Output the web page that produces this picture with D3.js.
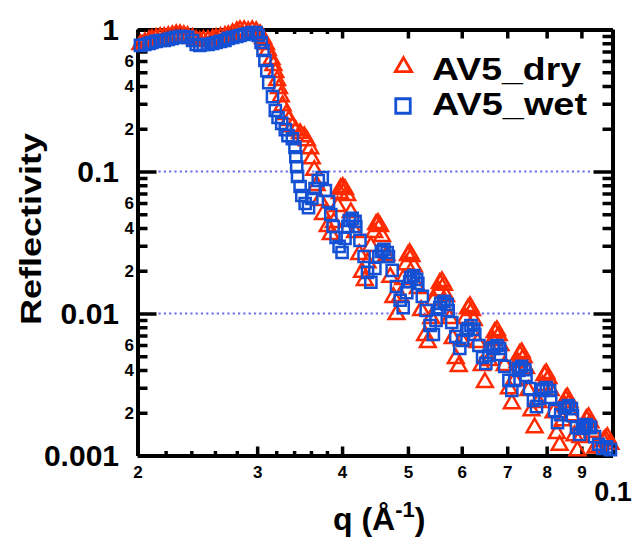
<!DOCTYPE html>
<html>
<head>
<meta charset="utf-8">
<script src="https://cdn.jsdelivr.net/npm/d3@7"></script>
<style>
body { margin: 0; background: #fff; }
svg { display: block; font-family: "Liberation Sans", Arial, Helvetica, sans-serif; font-weight: bold; }
</style>
</head>
<body>
<svg id="chart" width="634" height="539"></svg>
<script>
var seriesNames = ["AV5_dry", "AV5_wet"];

var qDry = [0.0202,0.0205,0.0208,0.0210,0.0213,0.0216,0.0219,0.0222,0.0225,0.0228,0.0231,0.0234,0.0237,0.0241,0.0244,0.0247,0.0250,0.0254,0.0258,0.0261,0.0265,0.0269,0.0272,0.0276,0.0280,0.0283,0.0287,0.0291,0.0295,0.0299,
    0.0303,0.0306,0.0309,0.0311,0.0315,0.0317,0.0319,0.0321,0.0323,0.0325,0.0327,0.0331,0.0334,0.0338,0.0342,0.0347,0.0352,0.0355,0.0359,0.0361,0.0364,0.0367,
    0.0371,0.0375,0.0381,0.0385,0.0389,0.0394,0.0397,0.0398,0.0401,0.0404,0.0407,0.0412,0.0418,0.0424,0.0428,0.0432,0.0436,0.0441,0.0446,0.0449,0.0452,0.0455,0.0458,0.0465,
    0.0471,0.0476,0.0481,0.0487,0.0492,0.0497,0.0500,0.0503,0.0506,0.0510,0.0517,0.0523,0.0530,0.0535,0.0541,0.0546,0.0554,0.0557,0.0561,0.0565,0.0569,0.0576,
    0.0582,0.0588,0.0594,0.0600,0.0608,0.0613,0.0617,0.0621,0.0625,0.0633,0.0642,0.0649,0.0658,0.0667,0.0671,0.0676,0.0680,0.0684,0.0694,0.0704,0.0711,0.0718,
    0.0725,0.0730,0.0735,0.0740,0.0746,0.0752,0.0760,0.0768,0.0778,0.0789,0.0794,0.0799,0.0805,0.0811,0.0819,0.0828,0.0836,0.0845,0.0850,0.0853,0.0858,0.0864,
    0.0870,0.0879,0.0888,0.0897,0.0909,0.0915,0.0922,0.0928,0.0935,0.0944,0.0957,0.0970,0.0976,0.0983,0.0993];
var rDry = [0.784,0.810,0.837,0.851,0.865,0.879,0.879,0.893,0.907,0.922,0.922,0.907,0.893,0.865,0.837,0.824,0.837,0.837,0.851,0.865,0.879,0.893,0.907,0.937,0.968,0.984,0.984,0.968,0.984,0.968,
    0.922,0.865,0.784,0.711,0.615,0.558,0.498,0.437,0.384,0.337,0.291,0.252,0.229,0.207,0.194,0.185,0.176,0.165,0.145,0.123,0.102,0.0797,
    0.0625,0.0498,0.0410,0.0360,0.0438,0.0567,0.0700,0.0759,0.0772,0.0747,0.0678,0.0514,0.0372,0.0261,0.0195,0.0171,0.0228,0.0297,0.0372,0.0424,0.0431,0.0410,0.0349,0.0256,
    0.0180,0.0130,0.00984,0.0132,0.0174,0.0221,0.0256,0.0265,0.0252,0.0214,0.0150,0.0105,0.00700,0.00625,0.00922,0.0124,0.0145,0.0163,0.0168,0.0158,0.0132,0.00922,
    0.00667,0.00482,0.00424,0.00646,0.00922,0.0108,0.0112,0.0105,0.00893,0.00625,0.00431,0.00327,0.00467,0.00646,0.00735,0.00759,0.00700,0.00595,0.00431,0.00296,0.00232,0.00338,
    0.00452,0.00515,0.00531,0.00490,0.00410,0.00287,0.00207,0.00157,0.00236,0.00312,0.00366,0.00378,0.00349,0.00287,0.00200,0.00143,0.00118,0.00176,0.00225,0.00248,0.00256,0.00236,
    0.00191,0.00138,0.00108,0.00134,0.00162,0.00179,0.00185,0.00170,0.00146,0.00113,0.00115,0.00126,0.00130,0.00134,0.00120];

var qWet = [0.0202,0.0205,0.0208,0.0210,0.0213,0.0216,0.0219,0.0222,0.0225,0.0228,0.0231,0.0234,0.0237,0.0241,0.0244,0.0247,0.0250,0.0254,0.0258,0.0261,0.0265,0.0269,0.0272,0.0276,0.0280,0.0283,0.0287,0.0291,0.0295,0.0299,
    0.0301,0.0304,0.0306,0.0308,0.0310,0.0312,0.0316,0.0319,0.0322,0.0326,0.0330,0.0333,0.0338,0.0341,0.0342,0.0343,0.0344,0.0347,0.0349,0.0353,0.0357,0.0361,0.0365,0.0369,0.0374,0.0378,0.0382,0.0385,0.0388,0.0392,
    0.0396,0.0400,0.0404,0.0408,0.0410,0.0414,0.0418,0.0419,0.0425,0.0431,0.0436,0.0441,0.0447,0.0453,0.0457,0.0461,0.0466,0.0468,0.0474,0.0481,0.0487,0.0492,0.0498,0.0503,0.0505,0.0510,0.0515,0.0517,0.0525,0.0532,
    0.0539,0.0545,0.0550,0.0557,0.0559,0.0565,0.0571,0.0573,0.0580,0.0588,0.0596,0.0602,0.0610,0.0613,0.0619,0.0625,0.0627,0.0636,0.0644,0.0651,0.0658,0.0667,0.0669,0.0676,0.0682,0.0684,0.0694,0.0704,0.0711,0.0718,
    0.0728,0.0728,0.0735,0.0743,0.0746,0.0755,0.0765,0.0773,0.0781,0.0789,0.0789,0.0799,0.0808,0.0811,0.0822,0.0830,0.0839,0.0850,0.0853,0.0861,0.0870,0.0873,0.0885,0.0894,0.0903,0.0909,0.0915,0.0925,0.0928,0.0941,
    0.0954,0.0967,0.0980,0.0993];
var rWet = [0.772,0.784,0.797,0.810,0.824,0.837,0.837,0.851,0.865,0.879,0.893,0.893,0.879,0.837,0.784,0.772,0.784,0.784,0.797,0.810,0.824,0.837,0.865,0.879,0.893,0.907,0.922,0.937,0.953,0.953,
    0.907,0.810,0.711,0.605,0.514,0.423,0.337,0.269,0.240,0.218,0.197,0.179,0.170,0.148,0.127,0.108,0.0922,0.0784,0.0678,0.0595,0.0557,0.0646,0.0759,0.0864,0.0907,0.0735,0.0615,0.0498,0.0410,0.0343,
    0.0297,0.0269,0.0338,0.0410,0.0452,0.0467,0.0445,0.0410,0.0327,0.0252,0.0195,0.0166,0.0208,0.0252,0.0274,0.0283,0.0269,0.0252,0.0201,0.0155,0.0124,0.0110,0.0140,0.0168,0.0180,0.0185,0.0174,0.0163,0.0132,0.0105,
    0.00823,0.00711,0.00893,0.0110,0.0118,0.0122,0.0116,0.0105,0.00864,0.00689,0.00567,0.00646,0.00759,0.00784,0.00823,0.00772,0.00711,0.00595,0.00490,0.00445,0.00506,0.00567,0.00576,0.00595,0.00567,0.00515,0.00424,0.00338,0.00287,0.00338,
    0.00397,0.00410,0.00424,0.00403,0.00366,0.00296,0.00244,0.00221,0.00252,0.00287,0.00292,0.00301,0.00287,0.00256,0.00207,0.00170,0.00194,0.00217,0.00217,0.00225,0.00214,0.00191,0.00157,0.00141,0.00155,0.00160,0.00165,0.00160,0.00157,0.00136,
    0.00120,0.00112,0.00115,0.00110];

var xMajor = [0.02, 0.03, 0.04, 0.05, 0.06, 0.07, 0.08, 0.09, 0.1];
var xLabels = ["2", "3", "4", "5", "6", "7", "8", "9", "0.1"];
var xMinor = [0.022, 0.024, 0.026, 0.028, 0.032, 0.034, 0.036, 0.038];
var yMajor = [1, 0.1, 0.01, 0.001];
var yLabels = ["1", "0.1", "0.01", "0.001"];
var yMinor = [0.002, 0.003, 0.004, 0.005, 0.006, 0.007, 0.008, 0.009,
    0.02, 0.03, 0.04, 0.05, 0.06, 0.07, 0.08, 0.09,
    0.2, 0.3, 0.4, 0.5, 0.6, 0.7, 0.8, 0.9];
var yMinorShown = [2, 4, 6];
var gridValues = [0.1, 0.01];

var font = '"Liberation Sans", Arial, Helvetica, sans-serif';
var red = "#ff2a00";
var blue = "#1450d4";

var svg = d3.select("#chart");

var x = d3.scaleLog().domain([0.02, 0.1]).range([137.5, 612.5]);
var y = d3.scaleLog().domain([0.001, 1]).range([455.5, 29.5]);

// dotted lines at 0.1 and 0.01
svg.append("g")
    .selectAll("line")
    .data(gridValues)
    .join("line")
    .attr("x1", x.range()[0] + 21)
    .attr("x2", x.range()[1] - 21)
    .attr("y1", function(d) { return y(d); })
    .attr("y2", function(d) { return y(d); })
    .attr("stroke", "#6c6cf2")
    .attr("stroke-width", 2)
    .attr("stroke-dasharray", "2.2,3.1");

function styleAxis(g, size) {
    g.attr("font-family", font).attr("font-size", size).attr("font-weight", "bold");
    g.select(".domain").attr("stroke-width", 4);
    g.selectAll(".tick line").attr("stroke-width", 3.5);
}

function minorLabel(d) {
    var digit = Math.round(d / Math.pow(10, Math.floor(Math.log10(d) + 1e-9)));
    return yMinorShown.indexOf(digit) >= 0 ? String(digit) : "";
}

// bottom axis
var xBottom = svg.append("g")
    .attr("transform", "translate(0,455.5)")
    .call(d3.axisBottom(x).tickValues(xMajor).tickSize(-9).tickSizeOuter(0).tickPadding(10.5)
        .tickFormat(function(d, i) { return xLabels[i]; }))
    .call(styleAxis, 17);
xBottom.selectAll(".tick text")
    .filter(function(d) { return d === 0.1; })
    .attr("font-size", 27)
    .attr("y", 26);

svg.append("g")
    .attr("transform", "translate(0,455.5)")
    .call(d3.axisBottom(x).tickValues(xMinor).tickSize(-4.5).tickSizeOuter(0).tickFormat(""))
    .call(styleAxis, 17);

// top axis
svg.append("g")
    .attr("transform", "translate(0,29.5)")
    .call(d3.axisTop(x).tickValues(xMajor).tickSize(-9).tickSizeOuter(0).tickFormat(""))
    .call(styleAxis, 17);
svg.append("g")
    .attr("transform", "translate(0,29.5)")
    .call(d3.axisTop(x).tickValues(xMinor).tickSize(-4.5).tickSizeOuter(0).tickFormat(""))
    .call(styleAxis, 17);

// left axis
svg.append("g")
    .attr("transform", "translate(137.5,0)")
    .call(d3.axisLeft(y).tickValues(yMajor).tickSize(-19).tickSizeOuter(0).tickPadding(18.5)
        .tickFormat(function(d, i) { return yLabels[i]; }))
    .call(styleAxis, 30);
svg.append("g")
    .attr("transform", "translate(137.5,0)")
    .call(d3.axisLeft(y).tickValues(yMinor).tickSize(-10).tickSizeOuter(0).tickPadding(3.5)
        .tickFormat(minorLabel))
    .call(styleAxis, 17);

// right axis
svg.append("g")
    .attr("transform", "translate(612.5,0)")
    .call(d3.axisRight(y).tickValues(yMajor).tickSize(-19).tickSizeOuter(0).tickFormat(""))
    .call(styleAxis, 17);
svg.append("g")
    .attr("transform", "translate(612.5,0)")
    .call(d3.axisRight(y).tickValues(yMinor).tickSize(-10).tickSizeOuter(0).tickFormat(""))
    .call(styleAxis, 17);

// data
var dry = qDry.map(function(q, i) { return {q: q, r: rDry[i]}; });
var wet = qWet.map(function(q, i) { return {q: q, r: rWet[i]}; });

svg.append("g")
    .selectAll("path")
    .data(dry)
    .join("path")
    .attr("transform", function(d) { return "translate(" + x(d.q) + "," + y(d.r) + ")"; })
    .attr("d", d3.symbol(d3.symbolTriangle, 108))
    .attr("fill", "none")
    .attr("stroke", red)
    .attr("stroke-width", 2.5);

svg.append("g")
    .selectAll("path")
    .data(wet)
    .join("path")
    .attr("transform", function(d) { return "translate(" + x(d.q) + "," + y(d.r) + ")"; })
    .attr("d", d3.symbol(d3.symbolSquare, 125))
    .attr("fill", "none")
    .attr("stroke", blue)
    .attr("stroke-width", 2.5);

// legend
var legend = svg.append("g");
legend.append("path")
    .attr("transform", "translate(403.5,67)")
    .attr("d", d3.symbol(d3.symbolTriangle, 115)())
    .attr("fill", "none")
    .attr("stroke", red)
    .attr("stroke-width", 2.8);
legend.append("path")
    .attr("transform", "translate(403,106)")
    .attr("d", d3.symbol(d3.symbolSquare, 210)())
    .attr("fill", "none")
    .attr("stroke", blue)
    .attr("stroke-width", 2.8);
legend.selectAll("text")
    .data(seriesNames)
    .join("text")
    .attr("x", 432)
    .attr("y", function(d, i) { return i == 0 ? 80 : 115; })
    .attr("font-size", 31)
    .attr("textLength", function(d, i) { return i == 0 ? 149 : 155; })
    .attr("lengthAdjust", "spacingAndGlyphs")
    .text(function(d) { return d; });

// axis titles
svg.append("text")
    .attr("transform", "translate(41,229) rotate(-90)")
    .attr("text-anchor", "middle")
    .attr("font-size", 30)
    .attr("textLength", 192)
    .attr("lengthAdjust", "spacingAndGlyphs")
    .text("Reflectivity");

var xTitle = svg.append("text")
    .attr("x", 333)
    .attr("y", 530)
    .attr("font-size", 32);
xTitle.append("tspan").text("q (Å");
xTitle.append("tspan").attr("font-size", 22).attr("dy", -13).text("-1");
xTitle.append("tspan").attr("dy", 13).text(")");
</script>
</body>
</html>
